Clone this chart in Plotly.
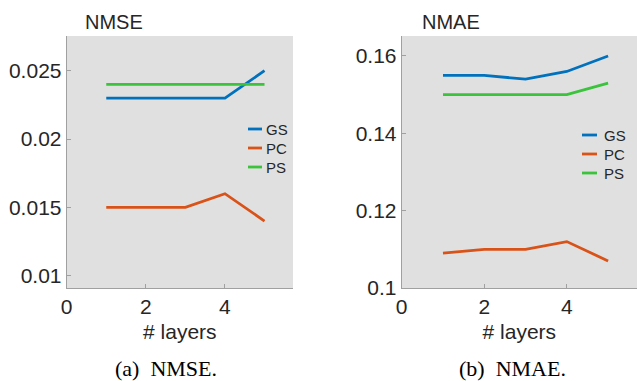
import plotly.graph_objects as go

layers = [1, 2, 3, 4, 5]
series = ["GS", "PC", "PS"]
nmse_gs = [0.023, 0.023, 0.023, 0.023, 0.025]
nmse_pc = [0.015, 0.015, 0.015, 0.016, 0.014]
nmse_ps = [0.024, 0.024, 0.024, 0.024, 0.024]
nmae_gs = [0.155, 0.155, 0.154, 0.156, 0.160]
nmae_pc = [0.109, 0.110, 0.110, 0.112, 0.107]
nmae_ps = [0.150, 0.150, 0.150, 0.150, 0.153]
x_ticks = [0, 2, 4]
nmse_ticks = [0.01, 0.015, 0.02, 0.025]
nmse_ticklabels = ["0.01", "0.015", "0.02", "0.025"]
nmae_ticks = [0.1, 0.12, 0.14, 0.16]
nmae_ticklabels = ["0.1", "0.12", "0.14", "0.16"]

colors = {"GS": "#0072BD", "PC": "#D95319", "PS": "#3BC43B"}
W, H = 637, 381
FONT = "Liberation Sans, Arial, Helvetica, sans-serif"

fig = go.Figure()
for name, vals in zip(series, [nmse_gs, nmse_pc, nmse_ps]):
    fig.add_trace(go.Scatter(x=layers, y=vals, mode="lines", name=name,
                             line=dict(color=colors[name], width=2.8),
                             xaxis="x", yaxis="y", showlegend=False))
for name, vals in zip(series, [nmae_gs, nmae_pc, nmae_ps]):
    fig.add_trace(go.Scatter(x=layers, y=vals, mode="lines", name=name,
                             line=dict(color=colors[name], width=2.8),
                             xaxis="x2", yaxis="y2", showlegend=False))

def px(v):
    return v / W

def py(v):
    return 1 - v / H

axcommon = dict(showgrid=False, zeroline=False, showline=True, linecolor="#a0a0a0",
                linewidth=1, ticks="inside", ticklen=4, tickcolor="#a0a0a0",
                automargin=False,
                tickfont=dict(family=FONT, size=21, color="#262626"))
title_font = dict(family=FONT, size=21, color="#262626")

fig.update_layout(
    width=W, height=H, margin=dict(l=0, r=0, t=0, b=0),
    paper_bgcolor="white", plot_bgcolor="#e0e0e0",
    xaxis=dict(domain=[px(66.7), px(293)], range=[0, 5.72], tickvals=x_ticks,
               anchor="y", title=dict(text="# layers", standoff=7, font=title_font),
               **axcommon),
    yaxis=dict(domain=[py(288), py(36)], range=[0.0091, 0.02754], tickvals=nmse_ticks,
               ticktext=nmse_ticklabels, anchor="x", **axcommon),
    xaxis2=dict(domain=[px(401.7), 1.0], range=[0, 5.7], tickvals=x_ticks,
                anchor="y2", title=dict(text="# layers", standoff=7, font=title_font),
                **axcommon),
    yaxis2=dict(domain=[py(288), py(36)], range=[0.1, 0.16517], tickvals=nmae_ticks,
                ticktext=nmae_ticklabels, anchor="x2", **axcommon),
)

annotations = []
annotations.append(dict(text="NMSE", x=px(114), y=py(22), xref="paper", yref="paper",
                        showarrow=False, xanchor="center", yanchor="middle",
                        font=dict(family=FONT, size=20, color="#262626")))
annotations.append(dict(text="NMAE", x=px(450.5), y=py(22), xref="paper", yref="paper",
                        showarrow=False, xanchor="center", yanchor="middle",
                        font=dict(family=FONT, size=20, color="#262626")))
cap_font = dict(family="Liberation Serif, Times New Roman, serif", size=22, color="black")
annotations.append(dict(text="(a)  NMSE.", x=px(166), y=py(368), xref="paper", yref="paper",
                        showarrow=False, xanchor="center", yanchor="middle", font=cap_font))
annotations.append(dict(text="(b)  NMAE.", x=px(512.5), y=py(368), xref="paper", yref="paper",
                        showarrow=False, xanchor="center", yanchor="middle", font=cap_font))

shapes = []
legend_pos = [(248, 262, 264, [129, 148, 167]), (582, 597, 602, [135, 154, 173])]
for (lx0, lx1, tx, ys) in legend_pos:
    for name, yy in zip(series, ys):
        shapes.append(dict(type="line", xref="paper", yref="paper",
                           x0=px(lx0), x1=px(lx1), y0=py(yy), y1=py(yy),
                           line=dict(color=colors[name], width=2.8)))
        annotations.append(dict(text=name, x=px(tx), y=py(yy), xref="paper", yref="paper",
                                showarrow=False, xanchor="left", yanchor="middle",
                                font=dict(family=FONT, size=15, color="#262626")))

fig.update_layout(annotations=annotations, shapes=shapes)
fig.write_html("out.html", config={"displayModeBar": False},
               post_script="document.body.style.margin='0';document.body.style.overflow='hidden';")
